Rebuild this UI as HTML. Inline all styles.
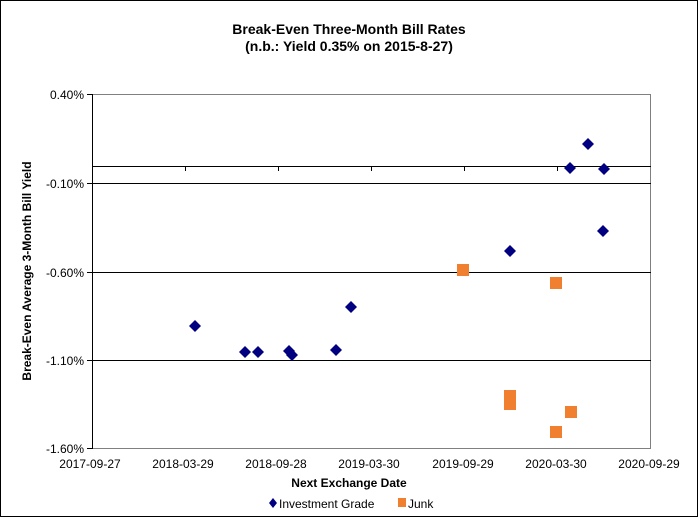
<!DOCTYPE html>
<html><head><style>body{margin:0;background:#fff}</style></head><body>
<svg width="698" height="517" xmlns="http://www.w3.org/2000/svg" font-family="Liberation Sans, Arial, sans-serif">
<rect x="0.5" y="0.5" width="697" height="516" fill="#fff" stroke="#000"/>
<text x="349" y="34" text-anchor="middle" font-size="14" font-weight="bold">Break-Even Three-Month Bill Rates</text>
<text x="349" y="51" text-anchor="middle" font-size="14" font-weight="bold">(n.b.: Yield 0.35% on 2015-8-27)</text>
<rect x="92.5" y="94.5" width="558" height="354" fill="#fff" stroke="#808080"/>
<g stroke="#000" stroke-width="1">
<line x1="92" y1="183.5" x2="651" y2="183.5"/>
<line x1="92" y1="272.5" x2="651" y2="272.5"/>
<line x1="92" y1="360.5" x2="651" y2="360.5"/>
<line x1="92" y1="166.5" x2="651" y2="166.5"/>
<line x1="92.5" y1="94" x2="92.5" y2="449"/>
<line x1="87" y1="94.5" x2="92" y2="94.5"/><line x1="87" y1="183.5" x2="92" y2="183.5"/><line x1="87" y1="272.5" x2="92" y2="272.5"/><line x1="87" y1="360.5" x2="92" y2="360.5"/><line x1="87" y1="448.5" x2="92" y2="448.5"/>
<line x1="185.5" y1="166" x2="185.5" y2="171"/><line x1="278.5" y1="166" x2="278.5" y2="171"/><line x1="371.5" y1="166" x2="371.5" y2="171"/><line x1="464.5" y1="166" x2="464.5" y2="171"/><line x1="557.5" y1="166" x2="557.5" y2="171"/>
</g>
<g font-size="12" text-anchor="end">
<text x="84" y="99">0.40%</text><text x="84" y="188">-0.10%</text><text x="84" y="277">-0.60%</text><text x="84" y="365">-1.10%</text><text x="84" y="453">-1.60%</text>
</g>
<g font-size="12" text-anchor="middle">
<text x="90" y="468">2017-09-27</text><text x="183" y="468">2018-03-29</text><text x="276" y="468">2018-09-28</text><text x="369" y="468">2019-03-30</text><text x="463" y="468">2019-09-29</text><text x="556" y="468">2020-03-30</text><text x="649" y="468">2020-09-29</text>
</g>
<text x="349" y="487" text-anchor="middle" font-size="12" font-weight="bold">Next Exchange Date</text>
<text transform="translate(31,271) rotate(-90)" text-anchor="middle" font-size="12" font-weight="bold">Break-Even Average 3-Month  Bill Yield</text>
<g fill="#000080">
<path d="M0,-6L6,0L0,6L-6,0Z" transform="translate(195,326)"/>
<path d="M0,-6L6,0L0,6L-6,0Z" transform="translate(245,352)"/>
<path d="M0,-6L6,0L0,6L-6,0Z" transform="translate(258,352)"/>
<path d="M0,-6L6,0L0,6L-6,0Z" transform="translate(289,351)"/>
<path d="M0,-6L6,0L0,6L-6,0Z" transform="translate(292,355)"/>
<path d="M0,-6L6,0L0,6L-6,0Z" transform="translate(336,350)"/>
<path d="M0,-6L6,0L0,6L-6,0Z" transform="translate(351,307)"/>
<path d="M0,-6L6,0L0,6L-6,0Z" transform="translate(510,251)"/>
<path d="M0,-6L6,0L0,6L-6,0Z" transform="translate(570,168)"/>
<path d="M0,-6L6,0L0,6L-6,0Z" transform="translate(588,144)"/>
<path d="M0,-6L6,0L0,6L-6,0Z" transform="translate(604,169)"/>
<path d="M0,-6L6,0L0,6L-6,0Z" transform="translate(603,231)"/>
<path d="M0,-5L4,0L0,5L-4,0Z" transform="translate(273,503)"/>
</g>
<g fill="#f08030">
<rect x="457" y="264" width="12" height="12"/>
<rect x="504" y="390" width="12" height="12"/>
<rect x="504" y="398" width="12" height="12"/>
<rect x="550" y="277" width="12" height="12"/>
<rect x="550" y="426" width="12" height="12"/>
<rect x="565" y="406" width="12" height="12"/>
<rect x="398" y="498" width="8" height="9"/>
</g>
<text x="279" y="508" font-size="12">Investment Grade</text>
<text x="408" y="508" font-size="12">Junk</text>
</svg>
</body></html>
